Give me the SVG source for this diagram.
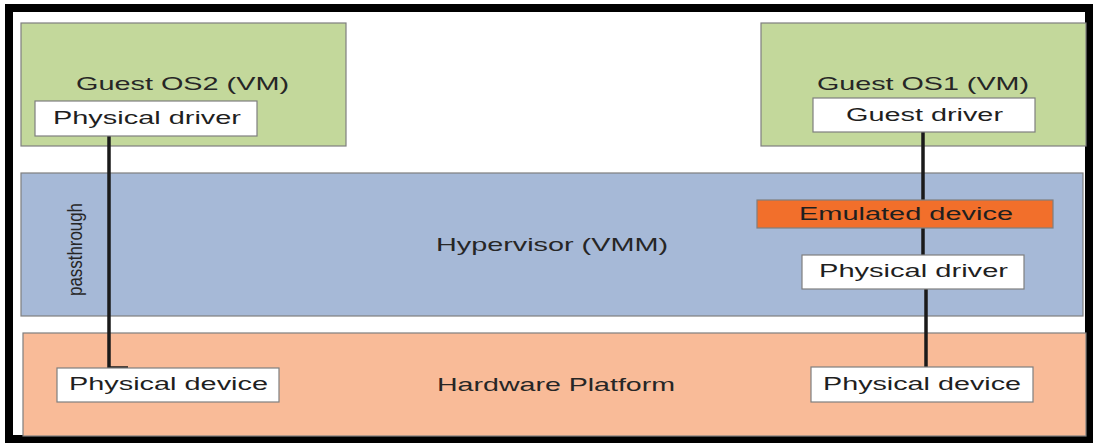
<svg xmlns="http://www.w3.org/2000/svg" width="1093" height="443" viewBox="0 0 1093 443">
  <style>
    .frame { fill: #ffffff; stroke: #000000; stroke-width: 8; }
    .layer { stroke: #7f7f7f; stroke-width: 1.2; }
    .vm { fill: #c3d89b; }
    .hv { fill: #a6b9d7; }
    .hw { fill: #f9bb98; }
    .box { fill: #ffffff; stroke: #7f7f7f; stroke-width: 1.2; }
    .emu { fill: #f26f2b; stroke: #7f7f7f; stroke-width: 1.2; }
    .big { font-family: "Liberation Sans", Arial, sans-serif; font-size: 19px; fill: #262626; }
    .lbl { font-family: "Liberation Sans", Arial, sans-serif; font-size: 17.5px; fill: #1f1f1f; }
    .side { font-family: "Liberation Sans", Arial, sans-serif; font-size: 20px; fill: #262626; }
    .wire { fill: none; stroke: #1a1a1a; stroke-width: 3.5; }
  </style>

  <!-- outer frame -->
  <rect class="frame" x="9" y="8" width="1080" height="431"/>

  <!-- layers -->
  <g id="guest-os2">
    <rect class="layer vm" x="21" y="23" width="325" height="123"/>
    <text class="big" x="76" y="90" textLength="213" lengthAdjust="spacingAndGlyphs">Guest OS2 (VM)</text>
  </g>
  <g id="guest-os1">
    <rect class="layer vm" x="761" y="23" width="325" height="123"/>
    <text class="big" x="817" y="90" textLength="212" lengthAdjust="spacingAndGlyphs">Guest OS1 (VM)</text>
  </g>
  <g id="hypervisor">
    <rect class="layer hv" x="21" y="173" width="1062" height="143"/>
    <text class="big" x="436" y="251" textLength="232" lengthAdjust="spacingAndGlyphs">Hypervisor (VMM)</text>
  </g>
  <g id="hardware">
    <rect class="layer hw" x="23" y="333" width="1063" height="103"/>
    <text class="big" x="437" y="391" textLength="238" lengthAdjust="spacingAndGlyphs">Hardware Platform</text>
  </g>

  <!-- connectors -->
  <g id="connectors">
    <polyline class="wire" points="109,136 109,368 128,368"/>
    <line class="wire" x1="923" y1="132" x2="923" y2="200"/>
    <line class="wire" x1="923" y1="228" x2="923" y2="255"/>
    <line class="wire" x1="926" y1="289" x2="926" y2="367"/>
  </g>

  <g id="passthrough-label">
    <text class="side" transform="translate(82,296) rotate(-90)" x="0" y="0" textLength="93" lengthAdjust="spacingAndGlyphs">passthrough</text>
  </g>

  <!-- component boxes -->
  <g id="vm2-physical-driver">
    <rect class="box" x="35" y="101" width="222" height="35"/>
    <text class="lbl" x="53" y="124" textLength="188" lengthAdjust="spacingAndGlyphs">Physical driver</text>
  </g>
  <g id="vm1-guest-driver">
    <rect class="box" x="813" y="98" width="222" height="34"/>
    <text class="lbl" x="846" y="121" textLength="157" lengthAdjust="spacingAndGlyphs">Guest driver</text>
  </g>
  <g id="emulated-device">
    <rect class="emu" x="757" y="200" width="296" height="28"/>
    <text class="lbl" x="799" y="220" textLength="214" lengthAdjust="spacingAndGlyphs">Emulated device</text>
  </g>
  <g id="vmm-physical-driver">
    <rect class="box" x="802" y="255" width="222" height="34"/>
    <text class="lbl" x="819" y="277" textLength="189" lengthAdjust="spacingAndGlyphs">Physical driver</text>
  </g>
  <g id="hw-physical-device-left">
    <rect class="box" x="57" y="368" width="222" height="34"/>
    <text class="lbl" x="69" y="390" textLength="199" lengthAdjust="spacingAndGlyphs">Physical device</text>
  </g>
  <g id="hw-physical-device-right">
    <rect class="box" x="811" y="367" width="222" height="35"/>
    <text class="lbl" x="823" y="390" textLength="198" lengthAdjust="spacingAndGlyphs">Physical device</text>
  </g>
</svg>
